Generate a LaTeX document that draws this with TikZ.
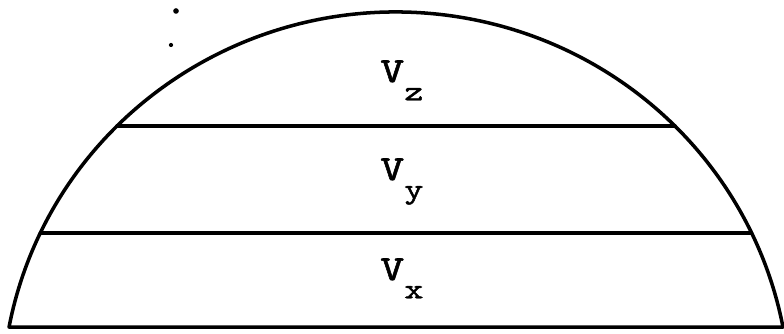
\documentclass[tikz,border=0pt]{standalone}
\usepackage{fontspec}
\newfontfamily\vfont{lmmono10-regular.otf}[FakeBold=1.5, FakeStretch=1.3]
\usetikzlibrary{calc}
\newcommand{\vlabel}[1]{V\raisebox{-13pt}{\fontsize{20}{20}\selectfont #1}}

\begin{document}
\begin{tikzpicture}[
  x=0.025cm, y=0.025cm,
  edge/.style ={line width=2.5pt, line cap=round, line join=round},
  lab/.style  ={font=\vfont\fontsize{25}{25}\selectfont,
                inner sep=0pt, anchor=base west},
  speck/.style={fill, circle, inner sep=0pt},
]
\useasboundingbox (0,0) rectangle (784,334);

\coordinate (c) at (396,-66);
\coordinate (bl) at ($(c)+(169.16:394 and 388)$);
\coordinate (br) at ($(c)+(10.84:394 and 388)$);
\coordinate (ml) at ($(c)+(154.5:394 and 388)$);
\coordinate (mr) at ($(c)+(25.5:394 and 388)$);
\coordinate (tl) at ($(c)+(135.1:394 and 388)$);
\coordinate (tr) at ($(c)+(44.9:394 and 388)$);

% dome and its floor
\draw[edge] (bl) arc[start angle=169.16, end angle=10.84,
  x radius=394, y radius=388] -- cycle;

% shelves
\draw[edge] (ml) -- (mr);
\draw[edge] (tl) -- (tr);

\node[lab] (vz) at (380,252) {\vlabel{z}};
\node[lab] (vy) at (380,154) {\vlabel{y}};
\node[lab] (vx) at (380,54)  {\vlabel{x}};

\node[speck, minimum size=4pt] (d1) at (176,323) {};
\node[speck, minimum size=3pt] (d2) at (171,289) {};
\end{tikzpicture}
\end{document}
